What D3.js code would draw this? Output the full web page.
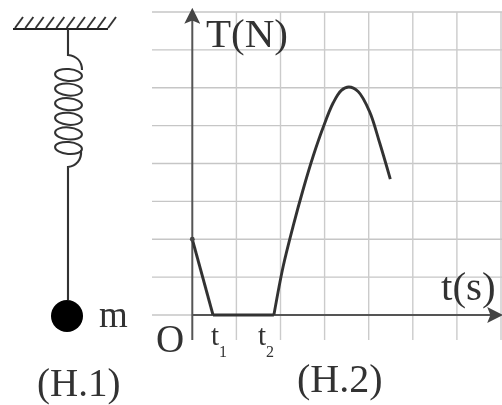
<!DOCTYPE html>
<html><head><meta charset="utf-8">
<script src="https://cdn.jsdelivr.net/npm/d3@7"></script>
<style>html,body{margin:0;padding:0;background:#fff}svg{display:block}text{font-family:"Liberation Serif",serif;fill:#333}</style>
</head><body><div id="c"></div>
<script>
const gridT = [0,1,2,3,4,5,6,7];
const gridN = [0,1,2,3,4,5,6,7,8];
const dropT = [0,0.47], dropN = [2,0];
const flatT = [0.47,1.85], flatN = [0,0];
const riseT = [1.85,2.06,2.285,2.51,2.74,2.96,3.19,3.38,3.55,3.76,4.02,4.25,4.49];
const riseN = [0,1.28,2.34,3.30,4.19,4.93,5.59,5.93,6.02,5.90,5.37,4.54,3.59];
const tickLabels = [{t:0.47,s:"1"},{t:1.85,s:"2"}];
const tickOffsets = [-2,-16];
const coilRows = [0,1,2,3,4,5];

const W=502,H=405;
const x=d3.scaleLinear().domain([0,7]).range([192.3,501]);
const y=d3.scaleLinear().domain([0,8]).range([315,12]);
const svg=d3.select("#c").append("svg").attr("width",W).attr("height",H);
const defs=svg.append("defs");
defs.append("filter").attr("id","b").append("feGaussianBlur").attr("stdDeviation",0.7);
defs.append("marker").attr("id","ah").attr("viewBox","0 0 10 10").attr("refX",8).attr("refY",5)
 .attr("markerWidth",16).attr("markerHeight",16).attr("markerUnits","userSpaceOnUse").attr("orient","auto")
 .append("path").attr("d","M0,0L10,5L0,10L2,5Z").attr("fill","#444");
const g=svg.append("g").attr("filter","url(#b)");

// grid
g.append("g").selectAll("line").data(gridN).join("line")
 .attr("x1",152).attr("x2",W).attr("y1",d=>y(d)).attr("y2",d=>y(d)).attr("stroke","#c6c6c6").attr("stroke-width",1.4);
g.append("g").selectAll("line").data(gridT.slice(1)).join("line")
 .attr("x1",d=>x(d)).attr("x2",d=>x(d)).attr("y1",12).attr("y2",340).attr("stroke","#cbcbcb").attr("stroke-width",1.4);

// axes
g.append("line").attr("x1",x(0)).attr("x2",x(0)).attr("y1",340).attr("y2",11).attr("stroke","#555").attr("stroke-width",2).attr("marker-end","url(#ah)");
g.append("line").attr("x1",x(0)).attr("x2",500).attr("y1",y(0)).attr("y2",y(0)).attr("stroke","#555").attr("stroke-width",2).attr("marker-end","url(#ah)");

// curve
const pairs=(a,b)=>a.map((d,i)=>[x(d),y(b[i])]);
const ln=d3.line();
const st={stroke:"#333","stroke-width":2.9,fill:"none"};
function draw(p,c){const s=g.append("path").attr("d",(c?d3.line().curve(c):ln)(p));Object.entries(st).forEach(([k,v])=>s.attr(k,v));}
draw(pairs(dropT,dropN));
draw(pairs(flatT,flatN));
draw(pairs(riseT,riseN),d3.curveCatmullRom);
g.append("circle").attr("cx",x(0)).attr("cy",y(2)).attr("r",2.4).attr("fill","#444");

// labels
const txt=(s,px,py,fs)=>g.append("text").attr("x",px).attr("y",py).attr("font-size",fs).text(s);
txt("T(N)",206,47,41);
txt("t(s)",441,300,41);
txt("O",156,352,39);
tickLabels.forEach((d,i)=>{
  const tx=x(d.t)+tickOffsets[i];
  txt("t",tx,345,29);
  txt(d.s,tx+8,357,16);
});
txt("(H.2)",297,392,40);
txt("(H.1)",37,396,39);
txt("m",99,327,37);

// figure 1: ceiling
const sx=d3.scaleLinear().domain([0,9]).range([13,106]);
const hatches=d3.range(10);
g.append("line").attr("x1",13).attr("x2",108).attr("y1",29).attr("y2",29).attr("stroke","#222").attr("stroke-width",2);
g.append("g").selectAll("line").data(hatches).join("line")
 .attr("x1",d=>sx(d)+2).attr("x2",d=>sx(d)+10).attr("y1",28).attr("y2",17).attr("stroke","#333").attr("stroke-width",1.9);

// spring
const wire={stroke:"#333","stroke-width":2.1,fill:"none"};
function p(d){const s=g.append("path").attr("d",d);Object.entries(wire).forEach(([k,v])=>s.attr(k,v));}
p("M68,29V55C76,56 82,61 82,70");
p("M81,150C82,160 76,166 68,167V300");
const cy=d3.scaleLinear().domain([0,5]).range([75,148]);
g.append("g").selectAll("ellipse").data(coilRows).join("ellipse")
 .attr("cx",68.5).attr("cy",d=>cy(d)).attr("rx",13.5).attr("ry",6)
 .attr("transform",d=>`rotate(5 68.5 ${cy(d)})`)
 .attr("fill","none").attr("stroke","#333").attr("stroke-width",2);
g.append("circle").attr("cx",67).attr("cy",316).attr("r",16).attr("fill","#000");
</script></body></html>
